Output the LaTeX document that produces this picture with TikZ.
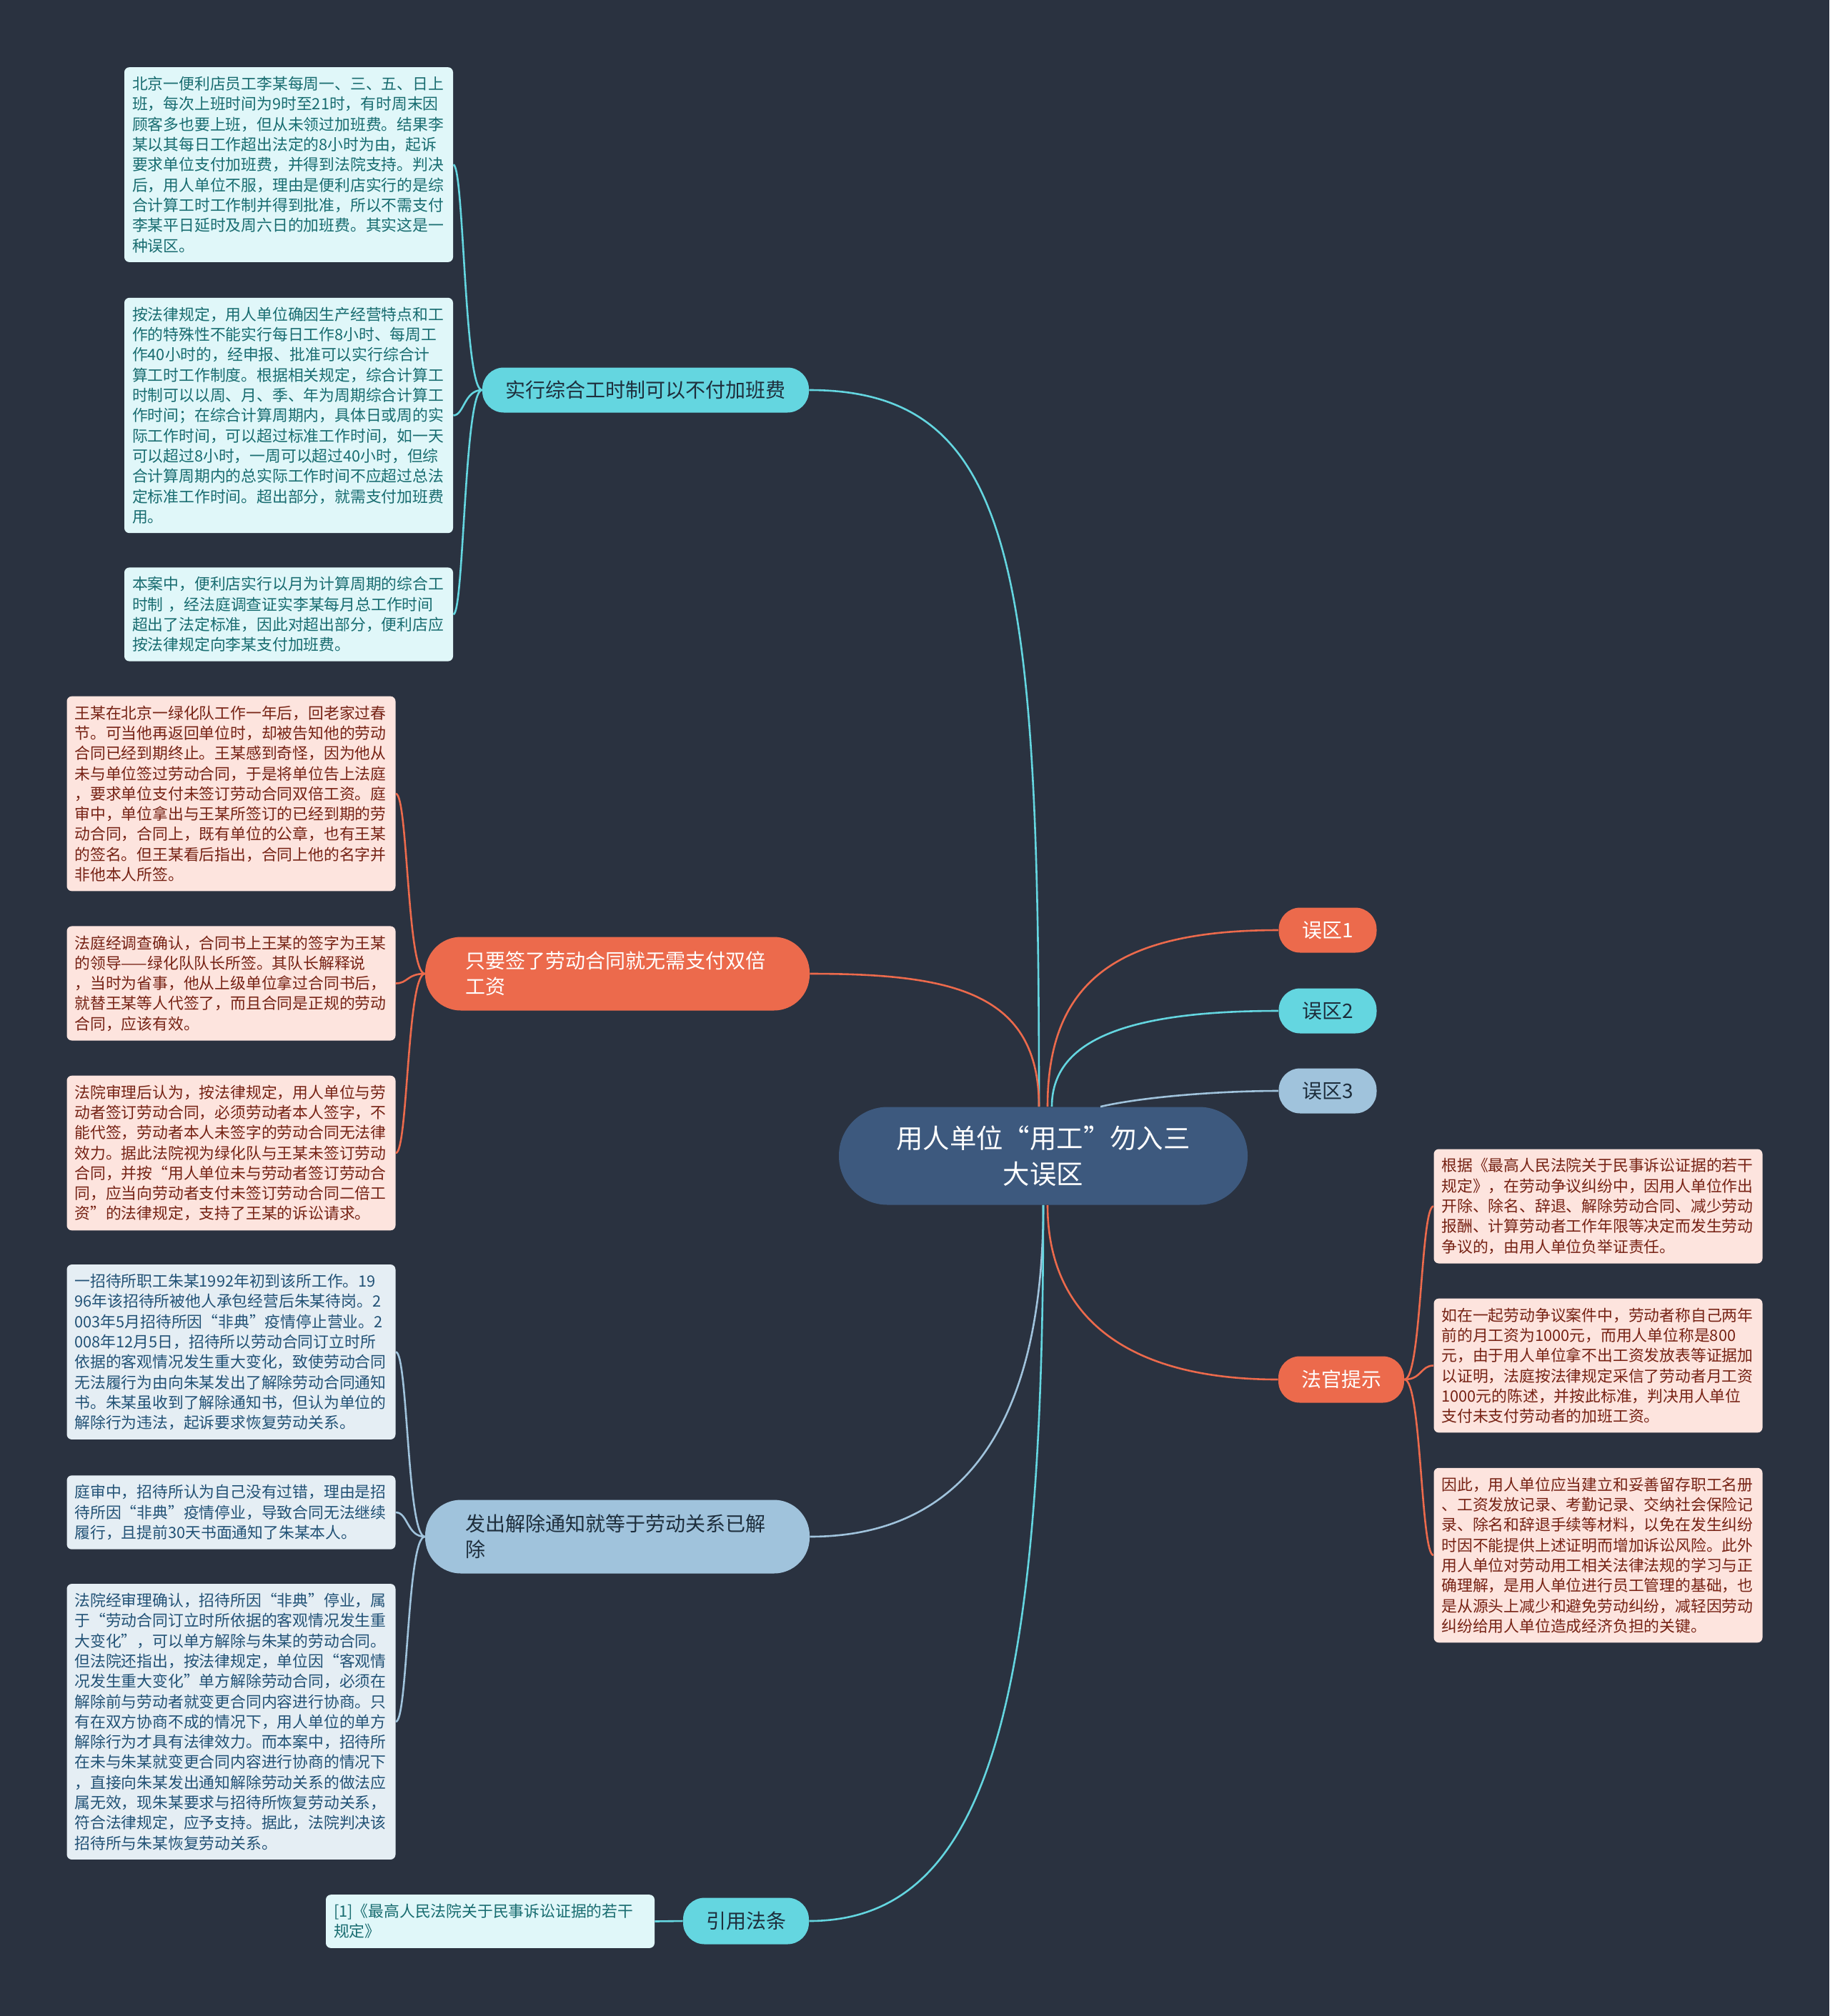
\documentclass[tikz,border=0pt]{standalone}
\usepackage{fontspec}
\setmainfont{Noto Sans CJK SC}
\newlength{\du}
\setlength{\du}{0.5pt}
\definecolor{bgcolor}{RGB}{42,50,64}
\definecolor{rootcolor}{RGB}{61,89,126}
\definecolor{cyancolor}{RGB}{100,214,224}
\definecolor{orangecolor}{RGB}{236,106,76}
\definecolor{bluecolor}{RGB}{160,195,220}
\definecolor{cyanleaf}{RGB}{224,247,249}
\definecolor{cyantext}{RGB}{24,108,112}
\definecolor{pinkleaf}{RGB}{253,228,222}
\definecolor{pinktext}{RGB}{118,34,20}
\definecolor{blueleaf}{RGB}{229,238,244}
\definecolor{bluetext}{RGB}{34,82,118}
\definecolor{darktext}{RGB}{30,46,60}
\tikzset{
  rootbox/.style={fill=rootcolor, text=white, rounded corners=34pt, align=center,
    minimum width=572\du, minimum height=137\du, font=\fontsize{18.7}{25}\selectfont},
  mainbox/.style={rounded corners=15pt, minimum height=63\du, inner xsep=8pt,
    font=\fontsize{14}{18}\selectfont},
  widebox/.style={rounded corners=25pt, minimum height=103\du, text width=213pt,
    inner xsep=28pt, align=left, font=\fontsize{14}{18}\selectfont},
  leafbox/.style={rounded corners=3.5pt, text width=219pt, inner xsep=5.5pt,
    inner ysep=6.5pt, align=left, font=\fontsize{10.9}{14.15}\selectfont},
  cyanleafbox/.style={leafbox, fill=cyanleaf, text=cyantext},
  pinkleafbox/.style={leafbox, fill=pinkleaf, text=pinktext},
  blueleafbox/.style={leafbox, fill=blueleaf, text=bluetext},
  link/.style={line width=1.3pt}
}
\begin{document}
\begin{tikzpicture}
\pgftransformxscale{1.000000}
\pgftransformyscale{-1.000000}
\fill[bgcolor] (0\du,0\du) rectangle (2560\du,2822\du);
% centre
\node[rootbox] (root) at (1460.000000\du,1618.000000\du){用人单位“用工”勿入三\\大误区};
% branches
\node[mainbox, fill=cyancolor, text=darktext, minimum width=457\du] (zonghe) at (903.500000\du,546.000000\du){实行综合工时制可以不付加班费};
\node[widebox, fill=orangecolor, text=white] (hetong) at (864.000000\du,1363.000000\du){只要签了劳动合同就无需支付双倍\\工资};
\node[widebox, fill=bluecolor, text=darktext] (jiechu) at (864.000000\du,2151.000000\du){发出解除通知就等于劳动关系已解\\除};
\node[mainbox, fill=cyancolor, text=darktext, minimum width=176\du, minimum height=65\du] (fatiao) at (1044.000000\du,2689.000000\du){引用法条};
\node[mainbox, fill=orangecolor, text=white, minimum width=137\du] (wuqu1) at (1858.000000\du,1302.000000\du){误区1};
\node[mainbox, fill=cyancolor, text=darktext, minimum width=137\du] (wuqu2) at (1858.000000\du,1415.000000\du){误区2};
\node[mainbox, fill=bluecolor, text=darktext, minimum width=137\du] (wuqu3) at (1858.000000\du,1527.000000\du){误区3};
\node[mainbox, fill=orangecolor, text=white, minimum width=176\du, minimum height=65\du] (tishi) at (1877.000000\du,1931.000000\du){法官提示};
% leaves of zonghe
\node[cyanleafbox] (zonghe1) at (404.000000\du,230.500000\du){北京一便利店员工李某每周一、三、五、日上\\班，每次上班时间为9时至21时，有时周末因\\顾客多也要上班，但从未领过加班费。结果李\\某以其每日工作超出法定的8小时为由，起诉\\要求单位支付加班费，并得到法院支持。判决\\后，用人单位不服，理由是便利店实行的是综\\合计算工时工作制并得到批准，所以不需支付\\李某平日延时及周六日的加班费。其实这是一\\种误区。};
\node[cyanleafbox] (zonghe2) at (404.000000\du,581.500000\du){按法律规定，用人单位确因生产经营特点和工\\作的特殊性不能实行每日工作8小时、每周工\\作40小时的，经申报、批准可以实行综合计\\算工时工作制度。根据相关规定，综合计算工\\时制可以以周、月、季、年为周期综合计算工\\作时间；在综合计算周期内，具体日或周的实\\际工作时间，可以超过标准工作时间，如一天\\可以超过8小时，一周可以超过40小时，但综\\合计算周期内的总实际工作时间不应超过总法\\定标准工作时间。超出部分，就需支付加班费\\用。};
\node[cyanleafbox] (zonghe3) at (404.000000\du,860.000000\du){本案中，便利店实行以月为计算周期的综合工\\时制 ，经法庭调查证实李某每月总工作时间\\超出了法定标准，因此对超出部分，便利店应\\按法律规定向李某支付加班费。};
% leaves of hetong
\node[pinkleafbox] (hetong1) at (323.500000\du,1111.000000\du){王某在北京一绿化队工作一年后，回老家过春\\节。可当他再返回单位时，却被告知他的劳动\\合同已经到期终止。王某感到奇怪，因为他从\\未与单位签过劳动合同，于是将单位告上法庭\\，要求单位支付未签订劳动合同双倍工资。庭\\审中，单位拿出与王某所签订的已经到期的劳\\动合同，合同上，既有单位的公章，也有王某\\的签名。但王某看后指出，合同上他的名字并\\非他本人所签。};
\node[pinkleafbox] (hetong2) at (323.500000\du,1376.500000\du){法庭经调查确认，合同书上王某的签字为王某\\的领导——绿化队队长所签。其队长解释说\\，当时为省事，他从上级单位拿过合同书后，\\就替王某等人代签了，而且合同是正规的劳动\\合同，应该有效。};
\node[pinkleafbox] (hetong3) at (323.500000\du,1614.000000\du){法院审理后认为，按法律规定，用人单位与劳\\动者签订劳动合同，必须劳动者本人签字，不\\能代签，劳动者本人未签字的劳动合同无法律\\效力。据此法院视为绿化队与王某未签订劳动\\合同，并按“用人单位未与劳动者签订劳动合\\同，应当向劳动者支付未签订劳动合同二倍工\\资”的法律规定，支持了王某的诉讼请求。};
% leaves of jiechu
\node[blueleafbox] (jiechu1) at (323.500000\du,1892.500000\du){一招待所职工朱某1992年初到该所工作。19\\96年该招待所被他人承包经营后朱某待岗。2\\003年5月招待所因“非典”疫情停止营业。2\\008年12月5日，招待所以劳动合同订立时所\\依据的客观情况发生重大变化，致使劳动合同\\无法履行为由向朱某发出了解除劳动合同通知\\书。朱某虽收到了解除通知书，但认为单位的\\解除行为违法，起诉要求恢复劳动关系。};
\node[blueleafbox] (jiechu2) at (323.500000\du,2117.000000\du){庭审中，招待所认为自己没有过错，理由是招\\待所因“非典”疫情停业，导致合同无法继续\\履行，且提前30天书面通知了朱某本人。};
\node[blueleafbox] (jiechu3) at (323.500000\du,2410.000000\du){法院经审理确认，招待所因“非典”停业，属\\于“劳动合同订立时所依据的客观情况发生重\\大变化”，可以单方解除与朱某的劳动合同。\\但法院还指出，按法律规定，单位因“客观情\\况发生重大变化”单方解除劳动合同，必须在\\解除前与劳动者就变更合同内容进行协商。只\\有在双方协商不成的情况下，用人单位的单方\\解除行为才具有法律效力。而本案中，招待所\\在未与朱某就变更合同内容进行协商的情况下\\，直接向朱某发出通知解除劳动关系的做法应\\属无效，现朱某要求与招待所恢复劳动关系，\\符合法律规定，应予支持。据此，法院判决该\\招待所与朱某恢复劳动关系。};
% leaf of fatiao
\node[cyanleafbox] (fatiao1) at (686.000000\du,2689.500000\du){[1]《最高人民法院关于民事诉讼证据的若干\\规定》};
% leaves of tishi
\node[pinkleafbox] (tishi1) at (2236.500000\du,1688.500000\du){根据《最高人民法院关于民事诉讼证据的若干\\规定》，在劳动争议纠纷中，因用人单位作出\\开除、除名、辞退、解除劳动合同、减少劳动\\报酬、计算劳动者工作年限等决定而发生劳动\\争议的，由用人单位负举证责任。};
\node[pinkleafbox] (tishi2) at (2236.500000\du,1911.500000\du){如在一起劳动争议案件中，劳动者称自己两年\\前的月工资为1000元，而用人单位称是800\\元，由于用人单位拿不出工资发放表等证据加\\以证明，法庭按法律规定采信了劳动者月工资\\1000元的陈述，并按此标准，判决用人单位\\支付未支付劳动者的加班工资。};
\node[pinkleafbox] (tishi3) at (2236.500000\du,2177.000000\du){因此，用人单位应当建立和妥善留存职工名册\\、工资发放记录、考勤记录、交纳社会保险记\\录、除名和辞退手续等材料，以免在发生纠纷\\时因不能提供上述证明而增加诉讼风险。此外\\用人单位对劳动用工相关法律法规的学习与正\\确理解，是用人单位进行员工管理的基础，也\\是从源头上减少和避免劳动纠纷，减轻因劳动\\纠纷给用人单位造成经济负担的关键。};
% links from centre
\draw[link, cyancolor] ([xshift=-6\du]root.north) .. controls +(0\du,-750\du) and +(290\du,0\du) .. (zonghe.east);
\draw[link, orangecolor] ([xshift=-6\du]root.north) .. controls +(0\du,-160\du) and +(200\du,0\du) .. (hetong.east);
\draw[link, orangecolor] ([xshift=6\du]root.north) .. controls +(0\du,-180\du) and +(-220\du,0\du) .. (wuqu1.west);
\draw[link, cyancolor] ([xshift=12\du]root.north) .. controls +(0\du,-90\du) and +(-220\du,0\du) .. (wuqu2.west);
\draw[link, bluecolor] ([xshift=80\du]root.north) .. controls +(60\du,-14\du) and +(-80\du,0\du) .. (wuqu3.west);
\draw[link, orangecolor] ([xshift=6\du]root.south) .. controls +(0\du,150\du) and +(-220\du,0\du) .. (tishi.west);
\draw[link, bluecolor] (root.south) .. controls +(0\du,300\du) and +(220\du,0\du) .. (jiechu.east);
\draw[link, cyancolor] (root.south) .. controls +(0\du,700\du) and +(250\du,0\du) .. (fatiao.east);
% links to leaves
\foreach \leaf in {zonghe1,zonghe2,zonghe3}
  \draw[link, cyancolor] (zonghe.west) .. controls +(-25\du,0\du) and +(15\du,0\du) .. (\leaf.east);
\foreach \leaf in {hetong1,hetong2,hetong3}
  \draw[link, orangecolor] (hetong.west) .. controls +(-25\du,0\du) and +(17\du,0\du) .. (\leaf.east);
\foreach \leaf in {jiechu1,jiechu2,jiechu3}
  \draw[link, bluecolor] (jiechu.west) .. controls +(-25\du,0\du) and +(17\du,0\du) .. (\leaf.east);
\draw[link, cyancolor] (fatiao.west) -- (fatiao1.east);
\foreach \leaf in {tishi1,tishi2,tishi3}
  \draw[link, orangecolor] (tishi.east) .. controls +(24\du,0\du) and +(-18\du,0\du) .. (\leaf.west);
\end{tikzpicture}
\end{document}
